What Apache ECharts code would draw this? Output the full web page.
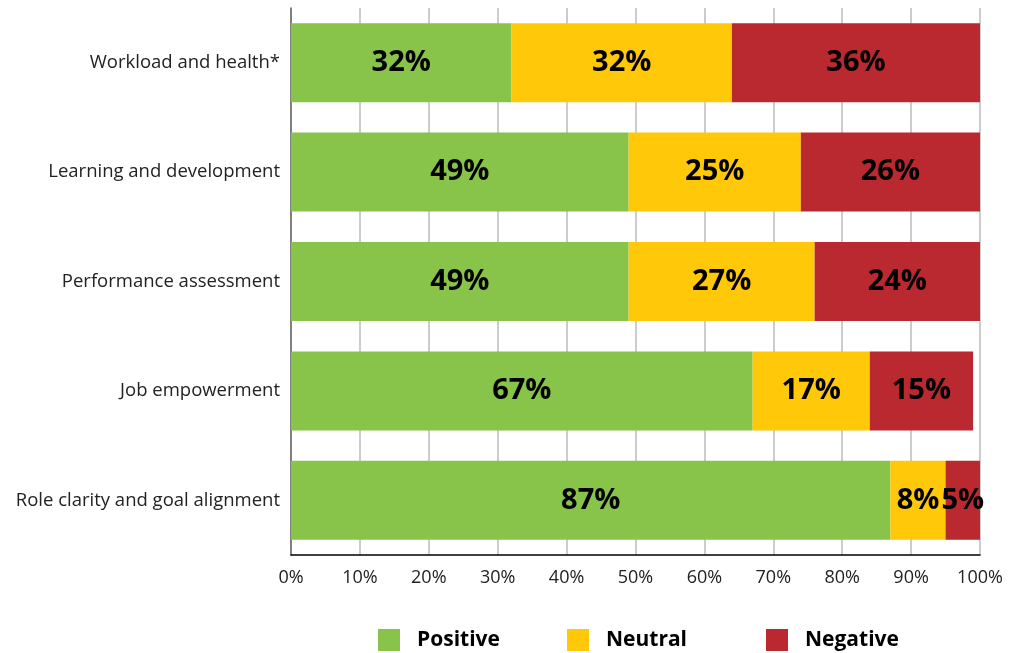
<!DOCTYPE html>
<html><head><meta charset="utf-8">
<script src="https://cdn.jsdelivr.net/npm/echarts@6/dist/echarts.min.js"></script>
<style>html,body{margin:0;padding:0;background:#fff}#c{width:1013px;height:653px}</style>
</head><body><div id="c"></div>
<script>
const categories = ["Workload and health*","Learning and development","Performance assessment","Job empowerment","Role clarity and goal alignment"];
const positive = [32,49,49,67,87];
const neutral = [32,25,27,17,8];
const negative = [36,26,24,15,5];
const seriesNames = ["Positive","Neutral","Negative"];
const colors = ["#88C34A","#FFC808","#B9292F"];
const font = "'Open Sans', 'Noto Sans', sans-serif";
const chart = echarts.init(document.getElementById('c'));
function mk(name, data, color){
  return {name, type:'bar', stack:'t', data, barWidth:79, itemStyle:{color},
    label:{show:true, position:'inside', formatter:'{c}%', color:'#000', fontFamily:font, fontWeight:'bold', fontSize:29}};
}
const legendLefts = [378, 567, 766];
const legends = seriesNames.map((n,i)=>({data:[n], left:legendLefts[i], top:629, padding:0, itemWidth:22, itemHeight:22, icon:'rect', itemGap:0,
  textStyle:{fontFamily:font, fontWeight:'bold', fontSize:21, color:'#000', padding:[0,0,0,12]}}));
chart.setOption({
  animation:false,
  grid:{left:291, right:33, top:8, bottom:98},
  legend:legends,
  xAxis:{type:'value', min:0, max:100, interval:10,
    axisLabel:{formatter:'{value}%', fontFamily:font, fontSize:18, color:'#222', margin:14},
    axisLine:{show:true, lineStyle:{color:'#000', width:1.5}},
    axisTick:{show:false},
    splitLine:{show:true, lineStyle:{color:'#bbb', width:1.5}}},
  yAxis:{type:'category', data:categories, inverse:true,
    axisLabel:{fontFamily:font, fontSize:18.5, color:'#222', margin:11},
    axisLine:{show:true, lineStyle:{color:'#666', width:1.5}},
    axisTick:{show:false}},
  series:[mk(seriesNames[0],positive,colors[0]),mk(seriesNames[1],neutral,colors[1]),mk(seriesNames[2],negative,colors[2])]
});
</script></body></html>
